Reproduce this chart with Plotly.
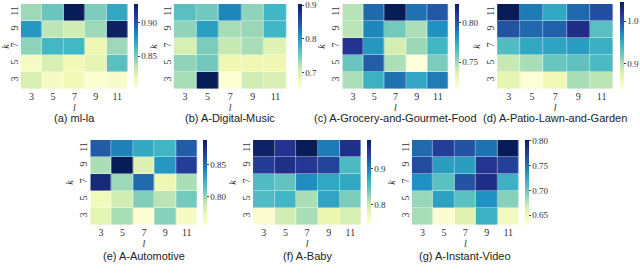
import plotly.graph_objects as go

l_vals = [3, 5, 7, 9, 11]
k_vals = [3, 5, 7, 9, 11]
l_labels = ["3", "5", "7", "9", "11"]
k_labels = ["3", "5", "7", "9", "11"]

# rows ordered k = 3, 5, 7, 9, 11 ; columns l = 3..11
ml_la = [
    [0.826, 0.809, 0.814, 0.804, 0.807],
    [0.810, 0.826, 0.814, 0.820, 0.858],
    [0.845, 0.864, 0.864, 0.816, 0.842],
    [0.877, 0.835, 0.829, 0.842, 0.925],
    [0.842, 0.854, 0.928, 0.849, 0.871],
]
digital_music = [
    [0.727, 0.903, 0.656, 0.706, 0.701],
    [0.739, 0.752, 0.681, 0.681, 0.681],
    [0.701, 0.747, 0.714, 0.727, 0.694],
    [0.739, 0.797, 0.727, 0.734, 0.777],
    [0.764, 0.752, 0.815, 0.739, 0.777],
]
grocery = [
    [0.748, 0.772, 0.792, 0.775, 0.789],
    [0.761, 0.797, 0.748, 0.716, 0.757],
    [0.811, 0.781, 0.738, 0.751, 0.770],
    [0.745, 0.786, 0.759, 0.748, 0.783],
    [0.746, 0.794, 0.824, 0.792, 0.799],
]
patio = [
    [0.871, 0.844, 0.861, 0.902, 0.895],
    [0.891, 0.902, 0.926, 0.930, 0.938],
    [0.936, 0.953, 0.955, 0.959, 0.947],
    [1.000, 0.988, 0.992, 1.025, 0.932],
    [1.045, 0.979, 0.953, 0.988, 1.004],
]
automotive = [
    [0.776, 0.796, 0.759, 0.804, 0.765],
    [0.769, 0.785, 0.805, 0.792, 0.809],
    [0.880, 0.799, 0.852, 0.772, 0.796],
    [0.796, 0.889, 0.780, 0.836, 0.869],
    [0.857, 0.844, 0.829, 0.823, 0.857],
]
baby = [
    [0.751, 0.796, 0.815, 0.775, 0.791],
    [0.855, 0.862, 0.815, 0.876, 0.834],
    [0.855, 0.845, 0.893, 0.874, 0.874],
    [0.945, 0.956, 0.949, 0.940, 0.857],
    [0.973, 0.952, 0.980, 0.904, 0.956],
]
instant_video = [
    [0.682, 0.635, 0.659, 0.719, 0.644],
    [0.687, 0.728, 0.707, 0.737, 0.692],
    [0.737, 0.707, 0.764, 0.785, 0.719],
    [0.768, 0.730, 0.730, 0.780, 0.774],
    [0.754, 0.776, 0.764, 0.750, 0.802],
]

captions = ["(a) ml-la", "(b) A-Digital-Music", "(c) A-Grocery-and-Gourmet-Food",
            "(d) A-Patio-Lawn-and-Garden", "(e) A-Automotive", "(f) A-Baby",
            "(g) A-Instant-Video"]
datasets = [ml_la, digital_music, grocery, patio, automotive, baby, instant_video]
zranges = [(0.801, 0.928), (0.651, 0.903), (0.716, 0.824), (0.84, 1.045),
           (0.756, 0.889), (0.744, 0.98), (0.63, 0.802)]
cb_ticks = [[0.85, 0.90], [0.7, 0.8, 0.9], [0.75, 0.80], [0.9, 1.0],
            [0.80, 0.85], [0.8, 0.9], [0.65, 0.70, 0.75, 0.80]]
cb_fmt = [".2f", ".1f", ".2f", ".1f", ".2f", ".1f", ".2f"]

W, H = 640, 274
# pixel boxes: (x0, x1, y0, y1, cb_x)
boxes = [
    (19, 127, 4, 89, 133),
    (173, 287, 4, 89, 298),
    (343, 450, 4, 89, 457),
    (499, 616, 4, 89, 623),
    (89, 197, 140, 225, 203),
    (253, 362, 140, 225, 368),
    (413, 521, 140, 225, 527),
]
cb_top = [4, 4, 4, 2, 140, 140, 140]
caption_y = [118, 118, 118, 118, 256, 256, 256]

serif = "Liberation Serif"
sans = "Liberation Sans"

fig = go.Figure()
layout = dict(width=W, height=H, margin=dict(l=0, r=0, t=0, b=0),
              paper_bgcolor="white", plot_bgcolor="white", showlegend=False)
annotations = []

for i, (z, (zmin, zmax), box) in enumerate(zip(datasets, zranges, boxes)):
    x0, x1, y0, y1, cbx = box
    n = i + 1
    xa = "x" if n == 1 else f"x{n}"
    ya = "y" if n == 1 else f"y{n}"
    fig.add_trace(go.Heatmap(
        z=z, x=l_labels, y=k_labels, xaxis=xa, yaxis=ya,
        colorscale="YlGnBu", zmin=zmin, zmax=zmax, xgap=0.4, ygap=0.4,
        colorbar=dict(
            x=cbx / W, xanchor="left", xpad=0, ypad=0,
            y=1 - cb_top[i] / H, yanchor="top", len=y1 - cb_top[i], lenmode="pixels",
            thickness=4, thicknessmode="pixels", outlinewidth=0,
            tickvals=cb_ticks[i], tickformat=cb_fmt[i], ticks="outside",
            ticklen=2, tickwidth=0.6, tickcolor="#444",
            ticklabeloverflow="allow",
            tickfont=dict(family=serif, size=9, color="#333"),
        ),
        hoverinfo="skip",
    ))
    layout["xaxis" if n == 1 else f"xaxis{n}"] = dict(
        domain=[x0 / W, x1 / W], anchor=ya, showgrid=False, zeroline=False,
        showline=False, ticks="", ticklen=0,
        tickfont=dict(family=serif, size=10, color="#333"),
        title=dict(text="<i>l</i>", font=dict(family=serif, size=10, color="#333"), standoff=0),
    )
    layout["yaxis" if n == 1 else f"yaxis{n}"] = dict(
        domain=[1 - y1 / H, 1 - y0 / H], anchor=xa, showgrid=False, zeroline=False,
        showline=False, ticks="", ticklen=0, tickangle=-90,
        tickfont=dict(family=serif, size=10, color="#333"),
        title=dict(text="<i>k</i>", font=dict(family=serif, size=10, color="#333"), standoff=2),
    )
    annotations.append(dict(
        text=captions[i], x=(x0 + x1) / 2 / W,
        y=1 - caption_y[i] / H, xref="paper", yref="paper",
        xanchor="center", yanchor="middle", showarrow=False,
        font=dict(family=sans, size=11, color="#222"),
    ))

layout["annotations"] = annotations
fig.update_layout(**layout)
fig.write_html("out.html", config={"displayModeBar": False},
               post_script="document.body.style.margin='0';document.body.style.overflow='hidden';")
